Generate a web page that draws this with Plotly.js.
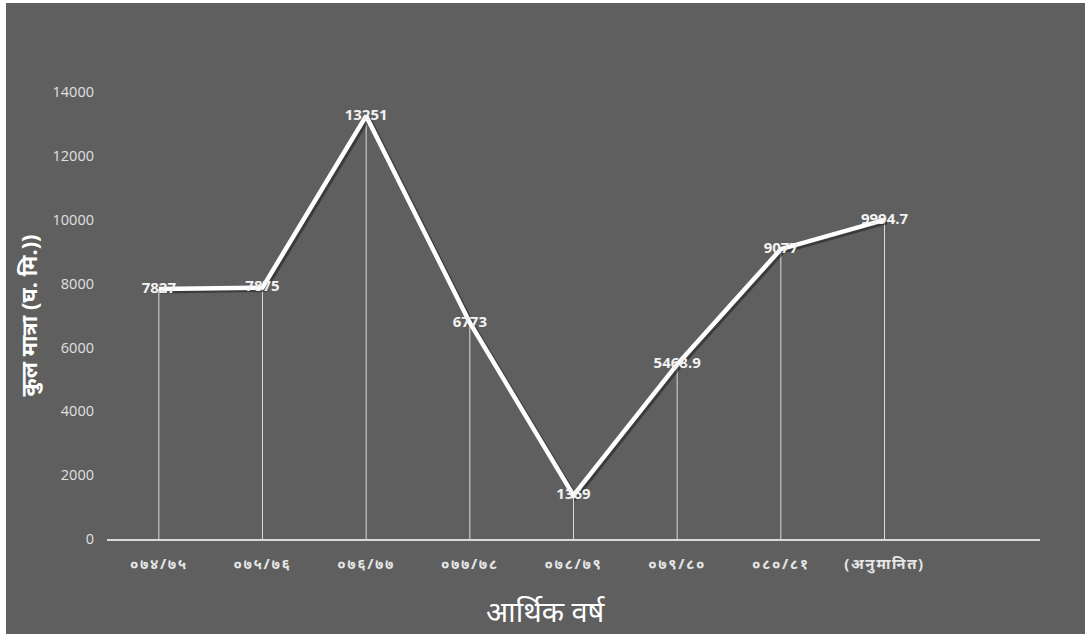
<!DOCTYPE html>
<html>
<head>
<meta charset="utf-8">
<script src="https://cdn.plot.ly/plotly-3.0.1.min.js"></script>
<style>
html,body{margin:0;padding:0;background:#ffffff;}
#chart{position:absolute;left:6px;top:3px;width:1079px;height:631px;}
#chart .xtick text{letter-spacing:1.6px;}
</style>
</head>
<body>
<div id="chart"></div>
<script>
const categories = ["०७४/७५","०७५/७६","०७६/७७","०७७/७८","०७८/७९","०७९/८०","०८०/८१","(अनुमानित)"];
const values = [7827, 7875, 13251, 6773, 1369, 5468.9, 9077, 9994.7];
const valueLabels = ["7827","7875","13251","6773","1369","5468.9","9077","9994.7"];
const yTicks = [0, 2000, 4000, 6000, 8000, 10000, 12000, 14000];
const xTitle = "आर्थिक वर्ष";
const yTitle = "कुल मात्रा (घ. मि.))";

const xIdx = categories.map((c, i) => i);
const bg = "#5e5f5e";

const shadow = {
  x: xIdx.map(v => v + 0.02), y: values.map(v => v - 60),
  type: "scatter", mode: "lines",
  line: {color: "rgba(30,30,30,0.55)", width: 5},
  hoverinfo: "skip", showlegend: false, cliponaxis: false
};
const drops = {
  x: xIdx, y: values, type: "scatter", mode: "markers",
  marker: {size: 1, color: "rgba(0,0,0,0)"},
  error_y: {type: "data", symmetric: false, array: values.map(() => 0), arrayminus: values,
            color: "#dcdcdc", thickness: 1, width: 0},
  hoverinfo: "skip", showlegend: false
};
const line = {
  x: xIdx, y: values, type: "scatter", mode: "lines+text",
  line: {color: "#ffffff", width: 4.5},
  text: valueLabels, textposition: "middle center",
  textfont: {family: "Open Sans, DejaVu Sans, sans-serif", size: 15, color: "#f2f2f2", weight: "bold"},
  showlegend: false, cliponaxis: false
};

const layout = {
  width: 1079, height: 631,
  paper_bgcolor: bg, plot_bgcolor: bg,
  margin: {l: 101, r: 45, t: 89, b: 95},
  showlegend: false,
  xaxis: {
    range: [-0.5, 8.5],
    tickmode: "array", tickvals: xIdx, ticktext: categories,
    showgrid: false, zeroline: false,
    showline: true, linecolor: "#d9d9d9", linewidth: 2,
    ticks: "", ticklabelstandoff: 10,
    tickfont: {family: "Noto Sans, DejaVu Sans, sans-serif", size: 15, color: "#e6e6e6", weight: "bold"}
  },
  yaxis: {
    range: [0, 14000],
    tickmode: "array", tickvals: yTicks, ticktext: yTicks.map(String),
    showgrid: false, zeroline: false, showline: false,
    ticks: "", ticklabelstandoff: 12,
    tickfont: {family: "Open Sans, Liberation Sans, sans-serif", size: 14.5, color: "#e0e0e0"}
  },
  annotations: [
    {text: xTitle, xref: "paper", yref: "paper", x: 0.4705, y: -0.159,
     xanchor: "center", yanchor: "middle", showarrow: false,
     font: {family: "Noto Sans, DejaVu Sans, sans-serif", size: 29, color: "#ffffff"}},
    {text: yTitle, xref: "paper", yref: "paper", x: -0.0847, y: 0.5, textangle: -90,
     xanchor: "center", yanchor: "middle", showarrow: false,
     font: {family: "Noto Sans, DejaVu Sans, sans-serif", size: 22, color: "#ffffff", weight: "bold"}}
  ]
};

Plotly.newPlot("chart", [drops, shadow, line], layout, {displayModeBar: false, staticPlot: true});
</script>
</body>
</html>
